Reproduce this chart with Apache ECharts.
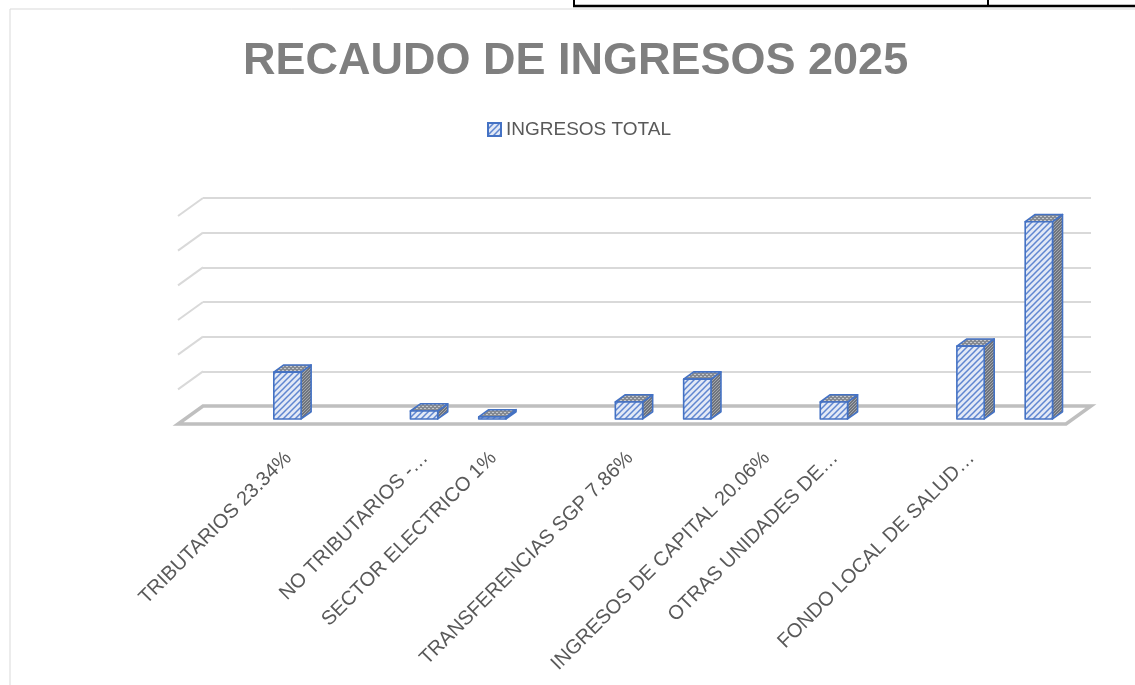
<!DOCTYPE html>
<html>
<head>
<meta charset="utf-8">
<title>Recaudo de ingresos 2025</title>
<script src="https://cdn.jsdelivr.net/npm/echarts@6/dist/echarts.min.js"></script>
<style>
html, body { margin: 0; padding: 0; background: #fff; }
#main { width: 1135px; height: 685px; }
</style>
</head>
<body>
<div id="main"></div>
<script>
// categorias (las vacias no muestran etiqueta en el original)
var categories = ['', 'TRIBUTARIOS 23.34%', '', 'NO TRIBUTARIOS -…', 'SECTOR ELECTRICO 1%', '',
    'TRANSFERENCIAS SGP 7.86%', '', 'INGRESOS DE CAPITAL 20.06%', 'OTRAS UNIDADES DE…', '',
    'FONDO LOCAL DE SALUD…', ''];
var ingresosTotal = [null, 13.5, null, 2.3, 0.6, null, 4.9, 11.5, null, 4.9, null, 21.0, 56.9];
var wallTicks = [10, 20, 30, 40, 50, 60];

// profundidad del "3D" (pixeles) y posicion de la barra dentro de ella
var depthX = -25, depthY = 18;
var frontDepth = 0.72, backDepth = 0.32;

function makePattern(size, bg, draw) {
    var c = document.createElement('canvas');
    c.width = size; c.height = size;
    var ctx = c.getContext('2d');
    ctx.fillStyle = bg;
    ctx.fillRect(0, 0, size, size);
    draw(ctx);
    return { image: c, repeat: 'repeat' };
}

var frontFill = makePattern(6, '#e2e9f6', function (ctx) {
    ctx.strokeStyle = '#5f86d0';
    ctx.lineWidth = 1.5;
    ctx.beginPath();
    ctx.moveTo(-1, 7); ctx.lineTo(7, -1);
    ctx.moveTo(-4, 4); ctx.lineTo(4, -4);
    ctx.moveTo(2, 10); ctx.lineTo(10, 2);
    ctx.stroke();
});
var sideFill = makePattern(3, '#6f747d', function (ctx) {
    ctx.fillStyle = '#a3a7ad';
    ctx.fillRect(0, 0, 1, 1);
    ctx.fillRect(2, 1, 1, 1);
    ctx.fillRect(1, 2, 1, 1);
});
var topFill = makePattern(4, '#858a92', function (ctx) {
    ctx.fillStyle = '#c4c7cc';
    ctx.fillRect(0, 0, 2, 1);
    ctx.fillRect(2, 2, 2, 1);
});

function renderBar(params, api) {
    var v = api.value(1);
    if (v == null || isNaN(v)) return;
    var idx = api.value(0);
    var top = api.coord([idx, v]);
    var base = api.coord([idx, 0]);
    var w = api.size([1, 0])[0] * 0.4;
    var cx = top[0] + depthX * frontDepth;
    var yTop = top[1] + depthY * frontDepth;
    var yBase = base[1] + depthY * frontDepth;
    var sx = depthX * (backDepth - frontDepth);
    var sy = depthY * (backDepth - frontDepth);
    var l = cx - w / 2, r = cx + w / 2;
    var line = { stroke: '#4472c4', lineWidth: 1.6, lineJoin: 'round' };
    return {
        type: 'group',
        children: [
            {
                type: 'polygon',
                shape: { points: [[r, yTop], [r + sx, yTop + sy], [r + sx, yBase + sy], [r, yBase]] },
                style: Object.assign({ fill: sideFill }, line)
            },
            {
                type: 'polygon',
                shape: { points: [[l, yTop], [r, yTop], [r + sx, yTop + sy], [l + sx, yTop + sy]] },
                style: Object.assign({ fill: topFill }, line)
            },
            {
                type: 'rect',
                shape: { x: l, y: yTop, width: w, height: yBase - yTop },
                style: Object.assign({ fill: frontFill }, line)
            }
        ]
    };
}

function renderWall(params, api) {
    var p = api.coord([0, api.value(0)]);
    var x0 = p[0] - api.size([1, 0])[0] / 2;
    return {
        type: 'line',
        shape: { x1: x0, y1: p[1], x2: x0 + depthX, y2: p[1] + depthY },
        style: { stroke: '#d9d9d9', lineWidth: 2 }
    };
}

function renderFloor(params, api) {
    var half = api.size([1, 0])[0] / 2;
    var a = api.coord([0, 0]);
    var b = api.coord([categories.length - 1, 0]);
    var x0 = a[0] - half, x1 = b[0] + half, y = a[1];
    return {
        type: 'polygon',
        shape: { points: [[x0, y], [x1, y], [x1 + depthX, y + depthY], [x0 + depthX, y + depthY]] },
        style: { fill: 'none', stroke: '#bfbfbf', lineWidth: 3.5, lineJoin: 'miter' }
    };
}

var option = {
    backgroundColor: '#fff',
    animation: false,
    title: {
        text: 'RECAUDO DE INGRESOS 2025',
        left: 243,
        top: 39,
        padding: 0,
        textStyle: {
            fontFamily: 'Liberation Sans',
            fontWeight: 'bold',
            fontSize: 45,
            color: '#7f7f7f'
        }
    },
    legend: {
        data: ['INGRESOS TOTAL'],
        left: 487,
        top: 120,
        padding: 0,
        icon: 'rect',
        itemWidth: 13,
        itemHeight: 13,
        itemGap: 6,
        textStyle: { fontFamily: 'Liberation Sans', fontSize: 19, color: '#595959' }
    },
    graphic: [
        { type: 'line', shape: { x1: 10, y1: 9, x2: 1135, y2: 9 }, style: { stroke: '#d9d9d9', lineWidth: 1 } },
        { type: 'line', shape: { x1: 10, y1: 9, x2: 10, y2: 685 }, style: { stroke: '#d9d9d9', lineWidth: 1 } },
        { type: 'line', shape: { x1: 573, y1: 6, x2: 1135, y2: 6 }, style: { stroke: '#000', lineWidth: 2.5 } },
        { type: 'line', shape: { x1: 574, y1: 0, x2: 574, y2: 6 }, style: { stroke: '#000', lineWidth: 2 } },
        { type: 'line', shape: { x1: 988, y1: 0, x2: 988, y2: 6 }, style: { stroke: '#000', lineWidth: 2 } }
    ],
    grid: [
        // pared del fondo
        { left: 203, right: 44, top: 198, bottom: 279 },
        // plano frontal, solo para las etiquetas
        { left: 186, right: 61, top: 216, bottom: 261 }
    ],
    xAxis: [
        {
            gridIndex: 0,
            type: 'category',
            data: categories,
            axisLine: { show: false },
            axisTick: { show: false },
            axisLabel: { show: false }
        },
        {
            gridIndex: 1,
            type: 'category',
            data: categories,
            axisLine: { show: false },
            axisTick: { show: false },
            axisLabel: {
                interval: 0,
                rotate: 45,
                margin: 31,
                fontFamily: 'Liberation Sans',
                fontSize: 20,
                color: '#595959'
            }
        }
    ],
    yAxis: [
        {
            gridIndex: 0,
            type: 'value',
            min: 0,
            max: 60,
            interval: 10,
            axisLine: { show: false },
            axisTick: { show: false },
            axisLabel: { show: false },
            splitLine: { lineStyle: { color: '#d9d9d9', width: 2 } }
        },
        {
            gridIndex: 1,
            type: 'value',
            min: 0,
            max: 60,
            show: false,
            splitLine: { show: false }
        }
    ],
    series: [
        {
            name: 'pared',
            type: 'custom',
            silent: true,
            xAxisIndex: 0,
            yAxisIndex: 0,
            renderItem: renderWall,
            data: wallTicks.map(function (t) { return [t]; }),
            encode: { y: 0 }
        },
        {
            name: 'piso',
            type: 'custom',
            silent: true,
            xAxisIndex: 0,
            yAxisIndex: 0,
            renderItem: renderFloor,
            data: [[0, 0]],
            encode: { x: 0, y: 1 }
        },
        {
            name: 'INGRESOS TOTAL',
            type: 'custom',
            xAxisIndex: 0,
            yAxisIndex: 0,
            renderItem: renderBar,
            itemStyle: { color: frontFill, borderColor: '#4472c4', borderWidth: 1.5 },
            data: ingresosTotal.map(function (v, i) { return [i, v]; }),
            encode: { x: 0, y: 1 }
        }
    ]
};

var myChart = echarts.init(document.getElementById('main'));
myChart.setOption(option);
</script>
</body>
</html>
